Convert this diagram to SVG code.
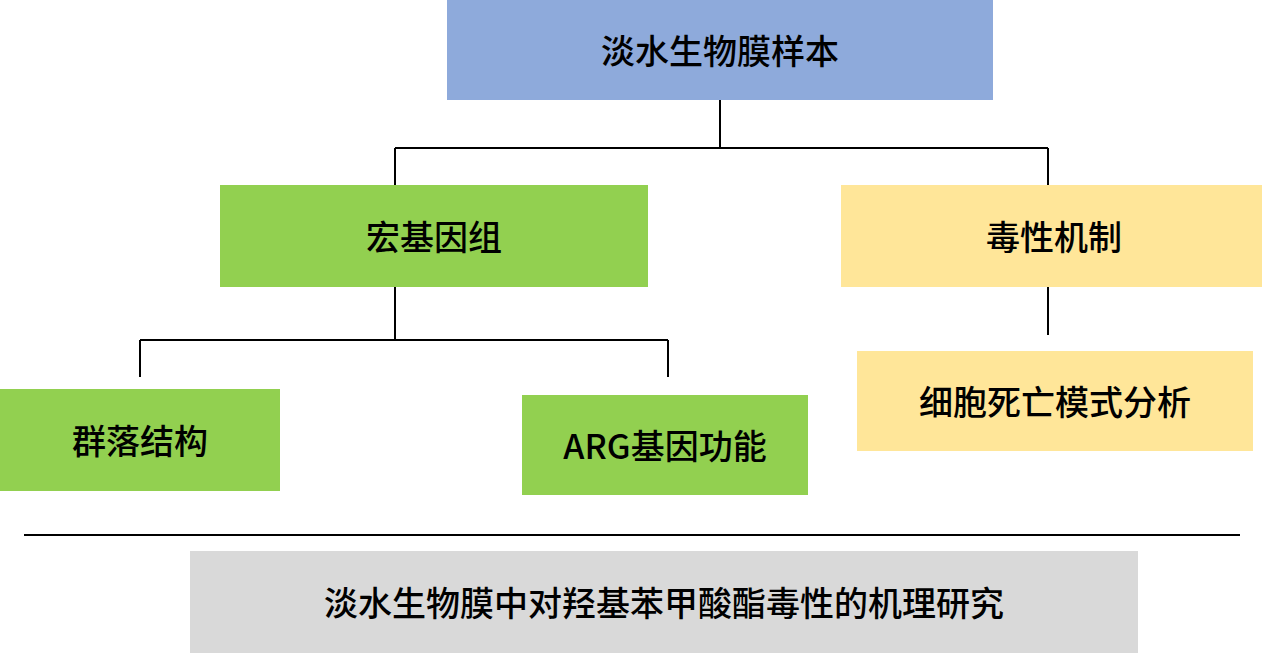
<svg xmlns="http://www.w3.org/2000/svg" width="1269" height="653" viewBox="0 0 1269 653">
<style>
text{font-family:"Noto Sans CJK SC","Noto Sans",sans-serif;font-size:34px;font-weight:500;fill:#000;text-anchor:middle;dominant-baseline:central}
.g{fill:#92D050}.y{fill:#FFE699}
#connectors path{stroke:#000;stroke-width:2;fill:none}
</style>
<rect width="1269" height="653" fill="#fff"/>
<g id="connectors">
<path d="M720 100V148M395 148H1048M395 148V185M1048 148V193"/>
<path d="M1048 287V335"/>
<path d="M395 287V340M140 340H668M140 340V377M668 340V377"/>
<path d="M24 535H1240"/>
</g>
<g id="root"><rect x="447" y="0" width="546" height="100" fill="#8EAADB"/><text x="720" y="49">淡水生物膜样本</text></g>
<g id="meta"><rect class="g" x="220" y="185" width="428" height="102"/><text x="434" y="235">宏基因组</text></g>
<g id="tox"><rect class="y" x="841" y="185" width="421" height="102"/><text x="1054" y="235">毒性机制</text></g>
<g id="death"><rect class="y" x="857" y="351" width="396" height="100"/><text x="1055" y="400">细胞死亡模式分析</text></g>
<g id="comm"><rect class="g" x="0" y="389" width="280" height="102"/><text x="140" y="439">群落结构</text></g>
<g id="arg"><rect class="g" x="522" y="395" width="286" height="100"/><text x="665" y="444">ARG基因功能</text></g>
<g id="title"><rect x="190" y="551" width="948" height="102" fill="#D9D9D9"/><text x="664" y="601">淡水生物膜中对羟基苯甲酸酯毒性的机理研究</text></g>
</svg>
